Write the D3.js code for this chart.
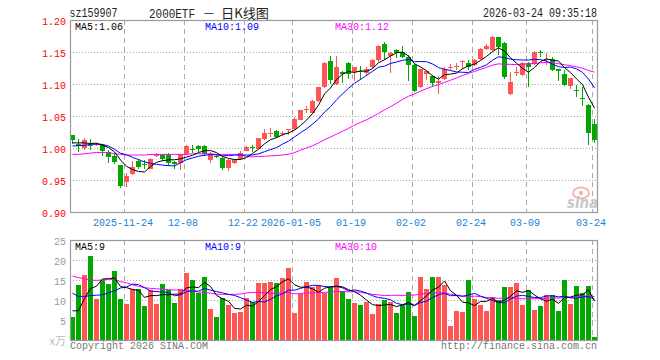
<!DOCTYPE html>
<html><head><meta charset="utf-8">
<script src="https://cdn.jsdelivr.net/npm/d3@7"></script>
<style>body{margin:0;background:#fff}svg{display:block}</style>
</head><body>
<svg id="c" width="660" height="360"></svg>
<script>
const dates = [
"2025-11-11","2025-11-12","2025-11-13","2025-11-14","2025-11-17","2025-11-18","2025-11-19","2025-11-20","2025-11-21","2025-11-24","2025-11-25","2025-11-26","2025-11-27","2025-11-28",
"2025-12-01","2025-12-02","2025-12-03","2025-12-04","2025-12-05","2025-12-08","2025-12-09","2025-12-10","2025-12-11","2025-12-12","2025-12-15","2025-12-16","2025-12-17","2025-12-18","2025-12-19","2025-12-22","2025-12-23","2025-12-24","2025-12-25","2025-12-26","2025-12-29","2025-12-30","2025-12-31",
"2026-01-05","2026-01-06","2026-01-07","2026-01-08","2026-01-09","2026-01-12","2026-01-13","2026-01-14","2026-01-15","2026-01-16","2026-01-19","2026-01-20","2026-01-21","2026-01-22","2026-01-23","2026-01-26","2026-01-27","2026-01-28","2026-01-29","2026-01-30",
"2026-02-02","2026-02-03","2026-02-04","2026-02-05","2026-02-06","2026-02-09","2026-02-10","2026-02-11","2026-02-12","2026-02-13","2026-02-24","2026-02-25","2026-02-26","2026-02-27",
"2026-03-02","2026-03-03","2026-03-04","2026-03-05","2026-03-06","2026-03-09","2026-03-10","2026-03-11","2026-03-12","2026-03-13","2026-03-16","2026-03-17","2026-03-18","2026-03-19","2026-03-20","2026-03-23","2026-03-24"];

const open = [1.020,1.007,1.0005,1.0042,1.005,1.0047,0.9938,0.988,0.9734,0.9469,0.9599,0.9802,0.9745,0.9672,0.988,0.9896,0.989,0.9786,0.977,0.990,
0.998,1.003,1.003,0.982,0.988,0.985,0.969,0.977,0.983,0.996,1.001,0.999,1.0146,1.023,1.0266,1.022,1.028,1.029,1.044,1.059,
1.054,1.073,1.096,1.136,1.100,1.119,1.133,1.118,1.120,1.117,1.127,1.137,1.162,1.144,1.153,1.150,1.142,1.130,1.095,1.115,
1.1125,1.102,1.108,1.126,1.126,1.134,1.133,1.130,1.139,1.155,1.153,1.173,1.164,1.085,1.117,1.114,1.133,1.1307,1.150,1.138,
1.1385,1.123,1.1156,1.0974,1.091,1.078,1.067,1.037];
const high = [1.021,1.0135,1.016,1.014,1.008,1.006,0.9974,0.9917,0.974,0.9615,0.9797,0.9823,0.9813,0.9844,0.9922,0.990,0.9922,0.980,0.991,1.0047,
1.0047,1.004,1.004,0.993,0.990,0.986,0.983,0.983,0.996,1.003,1.005,1.016,1.030,1.031,1.028,1.027,1.030,1.048,1.060,1.065,
1.075,1.096,1.134,1.143,1.143,1.120,1.134,1.127,1.128,1.126,1.139,1.161,1.165,1.150,1.154,1.159,1.145,1.131,1.124,1.121,
1.114,1.112,1.127,1.132,1.133,1.138,1.138,1.139,1.156,1.162,1.175,1.174,1.166,1.119,1.126,1.134,1.135,1.151,1.153,1.148,
1.1417,1.123,1.122,1.110,1.098,1.095,1.068,1.045];
const low = [1.007,0.993,0.997,0.997,1.003,0.988,0.9766,0.9745,0.938,0.9396,0.9578,0.9677,0.9667,0.9667,0.9854,0.9797,0.9724,0.9667,0.966,0.989,
0.9927,0.993,0.988,0.976,0.985,0.965,0.964,0.975,0.981,0.995,0.994,0.998,1.013,1.017,1.016,1.019,1.020,1.028,1.043,1.055,
1.053,1.072,1.094,1.100,1.098,1.102,1.108,1.104,1.106,1.112,1.125,1.135,1.137,1.117,1.140,1.140,1.104,1.087,1.093,1.106,
1.096,1.085,1.106,1.122,1.122,1.123,1.122,1.128,1.137,1.153,1.151,1.145,1.108,1.083,1.112,1.113,1.096,1.129,1.142,1.130,
1.121,1.105,1.097,1.0917,1.080,1.065,1.0047,1.008];
const close = [1.0125,1.0036,1.0125,1.0036,1.006,0.9953,0.9859,0.9786,0.9411,0.9562,0.9703,0.9708,0.974,0.9828,0.990,0.9833,0.977,0.975,0.990,1.0036,
0.9975,0.998,0.990,0.991,0.9875,0.968,0.982,0.981,0.992,1.002,1.000,1.015,1.024,1.024,1.0177,1.023,1.029,1.046,1.059,1.061,
1.074,1.095,1.133,1.106,1.127,1.116,1.115,1.126,1.119,1.123,1.1375,1.160,1.150,1.148,1.149,1.142,1.130,1.089,1.123,1.120,
1.102,1.104,1.124,1.127,1.128,1.136,1.127,1.1375,1.155,1.160,1.173,1.158,1.111,1.103,1.118,1.133,1.126,1.150,1.148,1.139,
1.122,1.121,1.0984,1.1089,1.090,1.077,1.023,1.013];
const volume = [5.8,13.75,16.25,21.1,10.25,15,14,17.25,10.25,9,12.75,12.75,8.5,12.5,9,14,12.5,9.25,12.75,16.75,
15,11.75,15.75,7.75,5.75,10.5,8.75,6.75,7,10.5,9.5,14.25,14.25,14.5,14.25,15.5,18,6.75,11.5,14.5,
13.25,13.75,11.75,13.2,15.5,12.25,10.25,9.25,8.75,9.5,6.5,9,10,9.5,6.75,8.75,12,6,15.75,12.75,
15.75,15.75,13.75,3.5,7.25,7,15,10.25,8.75,7.25,10.75,10,13.25,13.25,14.25,8.75,12.5,7.5,8.5,11.25,
11.25,7.25,15,9,13.5,11.75,13.5,0.75];

// moving-average values for the first days (window not yet full)
const ma5Head = [1.008,1.008,1.008,1.007];
const ma10Head = [1.0031,1.0036,1.004,1.0057,1.006,1.0057,1.003,0.998,0.9917];
const ma30Head = [0.990,0.990,0.991,0.992,0.993,0.993,0.993,0.991,0.990,0.989,0.989,0.989,0.989,0.990,0.990,0.990,0.990,0.990,0.990,0.990,0.991,0.991,0.991,0.991,0.990,0.990,0.990,0.990,0.990];
const vma5Head = [7.3,7.3,10.4,12.9];
const vma10Head = [11.7,10.9,10.9,11.1,11.2,11.3,11.8,12.3,13.0];
const vma30Head = [16.0,15.6,15.3,15.0,14.9,15.0,15.2,15.1,14.6,14.3,13.8,13.4,13.1,12.9,12.8,12.7,12.6,12.5,12.5,12.4,12.2,12.0,11.9,11.7,11.5,11.4,11.4,11.4,11.5];

const priceTicks = [1.20,1.15,1.10,1.05,1.00,0.95,0.90];
const volTicks = [25,20,15,10,5];
const dateTicks = ["2025-11-24","2025-12-08","2025-12-22","2026-01-05","2026-01-19","2026-02-02","2026-02-24","2026-03-09","2026-03-24"];
const dateTickLabels = ["2025-11-24","12-08","12-22","2026-01-05","01-19","02-02","02-24","03-09","03-24"];

const RED = "#ff5555", GREEN = "#00a800", GRID = "#aaaaaa", BORDER = "#9a9a9a";
const MONO = "'Liberation Mono','DejaVu Sans Mono',monospace";
const CJK = "'Noto Sans CJK SC','Noto Sans',sans-serif";

function ma(arr, n, head) {
  return arr.map((_, i) => i < n - 1 ? head[i] : d3.mean(arr.slice(i - n + 1, i + 1)));
}
const ma5 = ma(close, 5, ma5Head), ma10 = ma(close, 10, ma10Head), ma30 = ma(close, 30, ma30Head);
const vma5 = ma(volume, 5, vma5Head), vma10 = ma(volume, 10, vma10Head), vma30 = ma(volume, 30, vma30Head);

const svg = d3.select("#c");
const x = d3.scaleBand().domain(dates).range([70, 598]);
const y = d3.scaleLinear().domain([0.90, 1.20]).range([212, 20]);
const yv = d3.scaleLinear().domain([0, 25]).range([340, 240]);

function txt(g, xx, yy, s, o) {
  o = o || {};
  const t = g.append("text").attr("x", xx).attr("y", yy).text(s)
    .attr("font-family", o.font || MONO).attr("font-size", o.size || 11)
    .attr("fill", o.fill || "#000").attr("text-anchor", o.anchor || "start");
  if (o.len) t.attr("textLength", o.len).attr("lengthAdjust", "spacingAndGlyphs");
  return t;
}

// ---------- grids ----------
const grid = svg.append("g");
priceTicks.slice(1, -1).forEach(t => {
  const yy = Math.round(y(t)) + 0.5;
  grid.append("line").attr("x1", 70).attr("x2", 598).attr("y1", yy).attr("y2", yy)
    .attr("stroke", GRID).attr("stroke-dasharray", "1,2");
});
volTicks.slice(1).forEach(t => {
  const yy = Math.round(yv(t)) + 0.5;
  grid.append("line").attr("x1", 70).attr("x2", 598).attr("y1", yy).attr("y2", yy)
    .attr("stroke", GRID).attr("stroke-dasharray", "1,2");
});
dateTicks.forEach(d => {
  const xx = Math.round(x(d)) + 0.5;
  [[20, 212], [240, 340]].forEach(([a, b]) => {
    grid.append("line").attr("x1", xx).attr("x2", xx).attr("y1", a).attr("y2", b)
      .attr("stroke", GRID).attr("stroke-dasharray", "5,4");
  });
});

// ---------- watermark ----------
const wm = svg.append("g");
wm.append("ellipse").attr("cx", 581).attr("cy", 193).attr("rx", 8).attr("ry", 5.5)
  .attr("fill", "none").attr("stroke", "#f2b8b8").attr("stroke-width", 2);
wm.append("circle").attr("cx", 581).attr("cy", 193).attr("r", 2.2).attr("fill", "#f2b8b8");
txt(wm, 567, 208, "sina", {font: "'DejaVu Sans',sans-serif", size: 15, fill: "#c8c8c8", len: 31})
  .attr("font-style", "italic").attr("font-weight", "bold");

// ---------- candles ----------
const cg = svg.append("g").attr("shape-rendering", "crispEdges");
dates.forEach((d, i) => {
  const up = close[i] >= open[i];
  const col = up ? RED : GREEN;
  const xl = Math.round(x(d));
  const yh = y(high[i]), yl = y(low[i]);
  cg.append("rect").attr("x", xl + 2).attr("width", 1).attr("y", yh).attr("height", Math.max(1, yl - yh)).attr("fill", col);
  const yt = y(Math.max(open[i], close[i])), yb = y(Math.min(open[i], close[i]));
  cg.append("rect").attr("x", xl).attr("width", 5).attr("y", yt).attr("height", Math.max(1, yb - yt)).attr("fill", col);
  cg.append("rect").attr("x", xl).attr("width", 5).attr("y", yv(volume[i])).attr("height", 340 - yv(volume[i])).attr("fill", col);
});

// ---------- MA lines ----------
const cx = (i) => x(dates[i]) + 2.5;
const lp = d3.line().x((d, i) => cx(i)).y(d => y(d));
const lv = d3.line().x((d, i) => cx(i)).y(d => yv(d));
[[ma30, "#ff00ff"], [ma10, "#0000ff"], [ma5, "#000000"]].forEach(([s, c]) =>
  svg.append("path").attr("d", lp(s)).attr("fill", "none").attr("stroke", c).attr("stroke-width", 1));
[[vma30, "#ff00ff"], [vma10, "#0000ff"], [vma5, "#000000"]].forEach(([s, c]) =>
  svg.append("path").attr("d", lv(s)).attr("fill", "none").attr("stroke", c).attr("stroke-width", 1));

// ---------- frames ----------
svg.append("rect").attr("x", 70.5).attr("y", 20.5).attr("width", 527).attr("height", 192)
  .attr("fill", "none").attr("stroke", BORDER).attr("stroke-width", 1.2);
svg.append("rect").attr("x", 70.5).attr("y", 240.5).attr("width", 527).attr("height", 100)
  .attr("fill", "none").attr("stroke", BORDER).attr("stroke-width", 1.2);

// ---------- axes ----------
function styleAxis(g, fill) {
  g.select(".domain").remove();
  g.selectAll("line").remove();
  g.selectAll("text").attr("font-family", MONO).attr("font-size", 11).attr("fill", fill)
    .attr("textLength", function () { return this.textContent.length * 6; })
    .attr("lengthAdjust", "spacingAndGlyphs");
}
const ay = svg.append("g").attr("transform", "translate(70,1)")
  .call(d3.axisLeft(y).tickValues(priceTicks).tickSize(0).tickPadding(4).tickFormat(d3.format(".2f")));
styleAxis(ay, "#ff0000");
const av = svg.append("g").attr("transform", "translate(70,1)")
  .call(d3.axisLeft(yv).tickValues(volTicks).tickSize(0).tickPadding(4).tickFormat(d3.format("d")));
styleAxis(av, "#999999");
const ax = svg.append("g").attr("transform", "translate(-4,212)")
  .call(d3.axisBottom(x).tickValues(dateTicks).tickSize(0).tickPadding(6).tickFormat((d, i) => dateTickLabels[i]));
styleAxis(ax, "#1a7fd6");

// ---------- texts ----------
const tg = svg.append("g");
txt(tg, 69.5, 17, "sz159907", {size: 12, fill: "#222", len: 48});
txt(tg, 149, 18, "2000ETF", {size: 13, fill: "#222", len: 46});
txt(tg, 204, 18, "一", {font: CJK, size: 10, fill: "#222", len: 10});
txt(tg, 221, 18, "日K线图", {font: CJK, size: 13, fill: "#222", len: 48});
txt(tg, 597, 17, "2026-03-24 09:35:18", {size: 12, fill: "#222", len: 114, anchor: "end"});

txt(tg, 75, 30, "MA5:1.06", {fill: "#000", len: 48});
txt(tg, 205, 30, "MA10:1.09", {fill: "#0000ff", len: 54});
txt(tg, 335, 30, "MA30:1.12", {fill: "#ff00ff", len: 54});

txt(tg, 75, 250, "MA5:9", {fill: "#000", len: 30});
txt(tg, 205, 250, "MA10:9", {fill: "#0000ff", len: 36});
txt(tg, 335, 250, "MA30:10", {fill: "#ff00ff", len: 42});

txt(tg, 66, 345, "x万", {font: CJK, size: 11, fill: "#bbbbbb", anchor: "end"});
txt(tg, 70, 349, "Copyright 2026 SINA.COM", {fill: "#777", len: 138});
txt(tg, 597, 349, "http://finance.sina.com.cn", {fill: "#777", len: 156, anchor: "end"});
</script>
</body></html>
